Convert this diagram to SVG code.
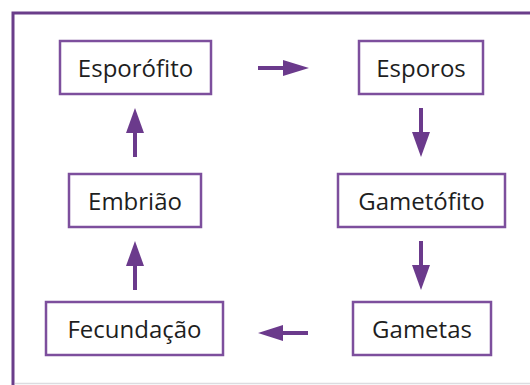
<svg xmlns="http://www.w3.org/2000/svg" width="530" height="385" viewBox="0 0 530 385">
<style>
.box{fill:#fff;stroke:#7d4f9d;stroke-width:2.5}
.lbl{font-family:"Open Sans","Noto Sans","Liberation Sans",sans-serif;font-size:24px;fill:#1e1e1e;text-anchor:middle;dominant-baseline:central}
.con{stroke:#6b3a8c;stroke-width:4;fill:none}
.head{fill:#6b3a8c}
</style>
<rect x="0" y="0" width="530" height="385" fill="#fff"/>
<path d="M13,385 V13 H530" fill="none" stroke="#6a3d8a" stroke-width="3"/>
<line x1="15" y1="383.5" x2="530" y2="383.5" stroke="#dcdce0" stroke-width="1.5"/>
<g id="esporofito"><rect class="box" x="60" y="41" width="151" height="53"/><text class="lbl" x="135.5" y="67">Esporófito</text></g>
<g id="esporos"><rect class="box" x="359" y="41" width="124" height="53"/><text class="lbl" x="421" y="67">Esporos</text></g>
<g id="gametofito"><rect class="box" x="338" y="174" width="167" height="53"/><text class="lbl" x="421.5" y="200">Gametófito</text></g>
<g id="embriao"><rect class="box" x="69" y="174" width="132" height="53"/><text class="lbl" x="135" y="200">Embrião</text></g>
<g id="fecundacao"><rect class="box" x="46" y="302" width="177" height="53"/><text class="lbl" x="134.5" y="328">Fecundação</text></g>
<g id="gametas"><rect class="box" x="353" y="302" width="138" height="53"/><text class="lbl" x="422" y="328">Gametas</text></g>
<g id="connectors">
<line class="con" x1="258" y1="68" x2="285" y2="68"/><polygon class="head" points="283,60 309,68 283,76"/>
<line class="con" x1="421" y1="108" x2="421" y2="134"/><polygon class="head" points="412,132 430,132 421,157"/>
<line class="con" x1="421" y1="241" x2="421" y2="267"/><polygon class="head" points="412,265 430,265 421,290"/>
<line class="con" x1="308" y1="333" x2="281" y2="333"/><polygon class="head" points="283,325 258,333 283,341"/>
<line class="con" x1="135" y1="290" x2="135" y2="264"/><polygon class="head" points="126,266 144,266 135,241"/>
<line class="con" x1="135" y1="157" x2="135" y2="131"/><polygon class="head" points="126,133 144,133 135,108"/>
</g>
</svg>
